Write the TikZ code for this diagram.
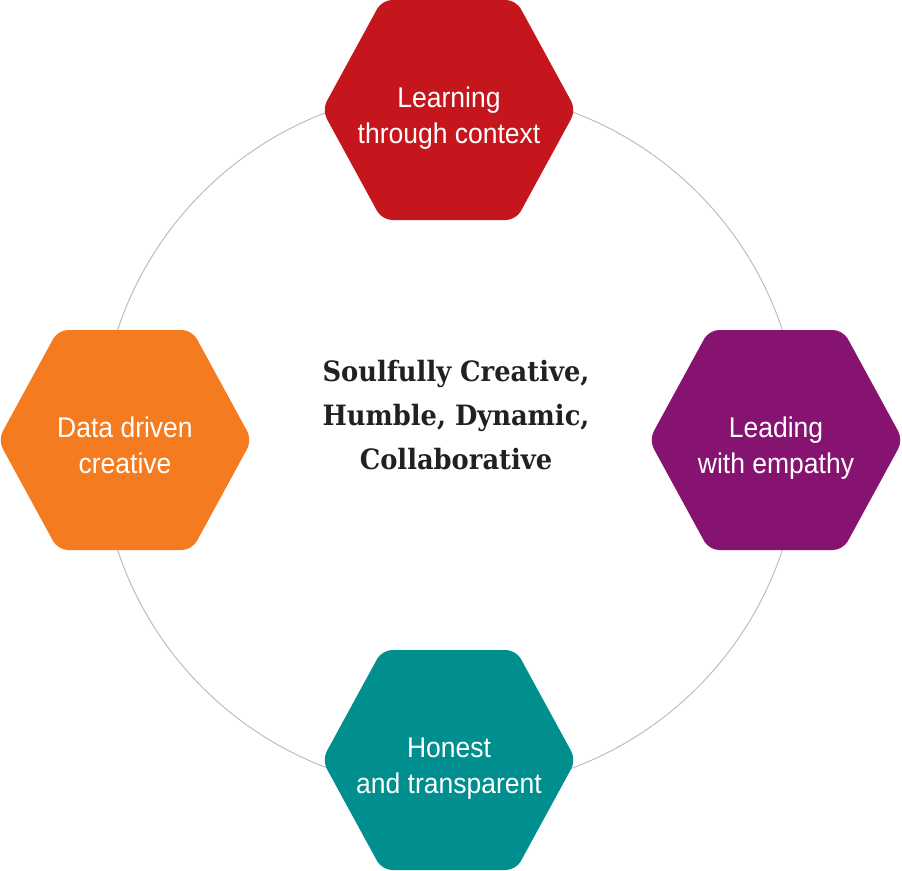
\documentclass[tikz,border=0pt]{standalone}
\usepackage{fontspec}
\newfontfamily\hexfont{Liberation Sans}[FakeStretch=0.93]
\newfontfamily\midfont{DejaVu Serif}[FakeStretch=0.92]
\definecolor{hexred}{HTML}{C4161C}
\definecolor{hexorange}{HTML}{F47B20}
\definecolor{hexpurple}{HTML}{871370}
\definecolor{hexteal}{HTML}{008E8E}
\definecolor{ringgray}{HTML}{BDBDBD}
\tikzset{
  hexlabel/.style={text=white, align=center, font=\hexfont\fontsize{28.5}{36}\selectfont, inner sep=0pt},
  midlabel/.style={text=black!87, align=center, font=\midfont\bfseries\fontsize{28}{44}\selectfont, inner sep=0pt},
  ring/.style={draw=ringgray, line width=1pt}
}
\newcommand{\hexagonat}[6]{% name, x, y, colour, line1, line2
  \fill[#4, rounded corners=10pt] (#2-127,#3) -- (#2-67,#3-110) -- (#2+67,#3-110) -- (#2+127,#3) -- (#2+67,#3+110) -- (#2-67,#3+110) -- cycle;
  \node[hexlabel] (#1) at (#2,#3+8) {\strut#5\\\strut#6};
}
\begin{document}
\begin{tikzpicture}[x=1pt,y=-1pt]
  \useasboundingbox (0,0) rectangle (902,870);
  \coordinate (ringcenter) at (450,440);
  \draw[ring] (ringcenter) circle[radius=350pt];
  \hexagonat{learning}{449}{110}{hexred}{Learning}{through context}
  \hexagonat{data}{125}{440}{hexorange}{Data driven}{creative}
  \hexagonat{leading}{776}{440}{hexpurple}{Leading}{with empathy}
  \hexagonat{honest}{449}{760}{hexteal}{Honest}{and transparent}
  \node[midlabel] (mid) at (456,417) {\strut Soulfully Creative,\\\strut Humble, Dynamic,\\\strut Collaborative};
\end{tikzpicture}
\end{document}
